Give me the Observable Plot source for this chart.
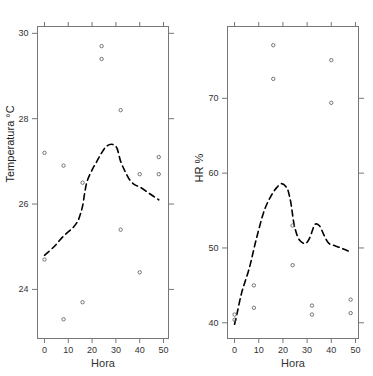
<!DOCTYPE html>
<html><head><meta charset="utf-8">
<script src="https://cdn.jsdelivr.net/npm/d3@7"></script>
<script src="https://cdn.jsdelivr.net/npm/@observablehq/plot@0.6"></script>
<style>
body{margin:0;background:#fff;}
#wrap{position:relative;width:373px;height:376px;}
#a{position:absolute;left:0;top:0;}
#b{position:absolute;left:186px;top:0;}
</style></head><body>
<div id="wrap"><div id="a"></div><div id="b"></div></div>
<script>
const hora = [0,0,8,8,16,16,24,24,32,32,40,40,48,48];
const temperatura = [27.2,24.7,26.9,23.3,26.5,23.7,29.7,29.4,28.2,25.4,26.7,24.4,27.1,26.7];
const hr = [41.1,40.4,45.0,42.0,77.1,72.6,53.0,47.7,42.3,41.1,75.1,69.4,43.1,41.3];

const suaveHoraT = [0,4,8,12,14,15,16,17,18,20,22,24,26,28,30,32,34,36,38,40,44,48];
const suaveTemp  = [24.8,25.0,25.25,25.45,25.6,25.75,25.95,26.3,26.55,26.8,27.0,27.2,27.35,27.4,27.35,27.0,26.75,26.55,26.45,26.4,26.25,26.1];
const suaveHoraH = [0,1,3,6,9,12.5,15,17.5,19.5,21.5,23,25,27,29.3,31,33.5,35,37,39,41,44,47];
const suaveHR    = [39.8,41.2,44.1,47.2,51.2,55.2,56.9,58.1,58.6,58.1,56.5,52.6,51.0,50.6,51.3,53.2,53.0,51.7,50.6,50.35,50.0,49.6];

const xTicks = [0,10,20,30,40,50];
const tempTicks = [24,26,28,30];
const hrTicks = [40,50,60,70];

const font = "'Liberation Sans', Arial, sans-serif";
const col = "#444";

function panel({x, y, cx, cy, xDomain, yDomain, yTicks, ylab, ml, mr, ylabOff}) {
  const pts = x.map((h,i)=>({h, v:y[i]}));
  const crv = cx.map((h,i)=>({h, v:cy[i]}));
  return Plot.plot({
    width: ml + 131 + mr, height: 376,
    marginLeft: ml, marginRight: mr, marginTop: 26, marginBottom: 38,
    style: {fontFamily: font, fontSize: "9px", color: col, background: "#fff"},
    x: {domain: xDomain, ticks: xTicks},
    y: {domain: yDomain, ticks: yTicks},
    marks: [
      Plot.frame({stroke: "#777", strokeWidth: 1}),
      Plot.axisX(xTicks, {anchor: "bottom", tickSize: 5, tickPadding: 3, label: null, stroke: "#777", fill: "#333"}),
      Plot.axisX(xTicks, {anchor: "top", tickSize: 5, text: null, label: null, stroke: "#777"}),
      Plot.axisY(yTicks, {anchor: "left", tickSize: 5, tickPadding: 4, label: null, stroke: "#777", fill: "#333"}),
      Plot.axisY(yTicks, {anchor: "right", tickSize: 5, text: null, label: null, stroke: "#777"}),
      Plot.line(crv, {x: "h", y: "v", curve: "catmull-rom", stroke: "#000", strokeWidth: 1.6, strokeDasharray: "6,4"}),
      Plot.dot(pts, {x: "h", y: "v", r: 1.7, stroke: "#555", strokeWidth: 0.8, fill: "none"}),
      Plot.text(["Hora"], {frameAnchor: "bottom", dy: 28, fontSize: 11, fill: "#333"}),
      Plot.text([ylab], {frameAnchor: "left", dx: -ylabOff, rotate: -90, fontSize: 11, fill: "#222"})
    ]
  });
}

document.getElementById("a").appendChild(panel({
  x: hora, y: temperatura, cx: suaveHoraT, cy: suaveTemp,
  xDomain: [-2.94, 52.1], yDomain: [22.85, 30.16], yTicks: tempTicks,
  ylab: "Temperatura °C", ml: 37, mr: 18, ylabOff: 27
}));
document.getElementById("b").appendChild(panel({
  x: hora, y: hr, cx: suaveHoraH, cy: suaveHR,
  xDomain: [-2.92, 51.25], yDomain: [37.9, 79.6], yTicks: hrTicks,
  ylab: "HR %", ml: 41, mr: 15, ylabOff: 28
}));
</script>
</body></html>
